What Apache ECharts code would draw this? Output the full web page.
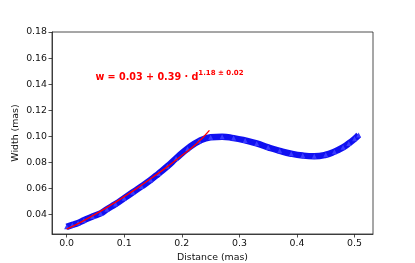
<!DOCTYPE html>
<html>
<head>
<meta charset="utf-8">
<script src="https://cdn.jsdelivr.net/npm/echarts@6/dist/echarts.min.js"></script>
<style>html,body{margin:0;padding:0;background:#fff}#c{width:415px;height:263px}</style>
</head>
<body>
<div id="c"></div>
<script>
const distance = [0, 0.01, 0.02, 0.03, 0.045, 0.059, 0.07, 0.085, 0.1, 0.115, 0.13, 0.146, 0.16, 0.175, 0.19, 0.21, 0.23, 0.25, 0.27, 0.29, 0.31, 0.33, 0.35, 0.37, 0.39, 0.41, 0.43, 0.45, 0.465, 0.48, 0.49, 0.5, 0.507];
const width = [0.0305, 0.032, 0.0335, 0.0355, 0.0385, 0.0408, 0.044, 0.048, 0.0525, 0.057, 0.0615, 0.0665, 0.0715, 0.077, 0.083, 0.0905, 0.0963, 0.0992, 0.0997, 0.0986, 0.0968, 0.0945, 0.0915, 0.0888, 0.0866, 0.0852, 0.0847, 0.0858, 0.0882, 0.0915, 0.0945, 0.098, 0.101];
const fitD = [0, 0.025, 0.05, 0.075, 0.1, 0.125, 0.15, 0.175, 0.2, 0.225, 0.248];
const fitW = [0.0288, 0.0342, 0.0402, 0.0467, 0.0537, 0.061, 0.0687, 0.0767, 0.0852, 0.094, 0.1045];
const xTicks = [0, 0.1, 0.2, 0.3, 0.4, 0.5];
const yTicks = [0.04, 0.06, 0.08, 0.10, 0.12, 0.14, 0.16, 0.18];
const annotation = {d: 0.05, w: 0.14, main: 'w = 0.03 + 0.39 · d', exp: '1.18 ± 0.02'};

const chart = echarts.init(document.getElementById('c'), null, {renderer: 'canvas'});
const font = 'DejaVu Sans';
const fs = 9.4;
const axisCommon = {
  axisLine: {show: true, onZero: false, lineStyle: {color: '#222', width: 0.8}},
  axisTick: {show: true, length: 3.5, lineStyle: {color: '#222', width: 0.8}},
  splitLine: {show: false},
  nameMoveOverlap: false,
  nameTextStyle: {fontFamily: font, fontSize: fs, color: '#111'}
};
chart.setOption({
  animation: false,
  grid: {left: 52, right: 42, top: 32, bottom: 29, outerBoundsMode: 'none', containLabel: false,
         show: true, borderColor: '#222', borderWidth: 0.8, backgroundColor: '#fff'},
  xAxis: Object.assign({}, axisCommon, {
    type: 'value', min: -0.0254, max: 0.532,
    name: 'Distance (mas)', nameLocation: 'middle', nameGap: 19,
    axisTick: Object.assign({}, axisCommon.axisTick, {customValues: xTicks}),
    axisLabel: {customValues: xTicks, fontFamily: font, fontSize: fs, color: '#111', margin: 5, formatter: v => v.toFixed(1)}
  }),
  yAxis: Object.assign({}, axisCommon, {
    type: 'value', min: 0.025, max: 0.18,
    name: 'Width (mas)', nameLocation: 'middle', nameGap: 32, nameRotate: 90,
    axisTick: Object.assign({}, axisCommon.axisTick, {customValues: yTicks}),
    axisLabel: {customValues: yTicks, fontFamily: font, fontSize: fs, color: '#111', margin: 5, formatter: v => v.toFixed(2)}
  }),
  series: [
    {type: 'line', data: distance.map((d, i) => [d, width[i]]), smooth: true, showSymbol: true,
     symbol: 'triangle', symbolSize: 5, itemStyle: {color: '#3a3aff'},
     lineStyle: {color: '#1010f0', width: 6.5}, z: 2},
    {type: 'line', data: fitD.map((d, i) => [d, fitW[i]]), smooth: true, showSymbol: false,
     lineStyle: {color: '#ff0000', width: 1.4}, z: 3}
  ]
});
const p = chart.convertToPixel({gridIndex: 0}, [annotation.d, annotation.w]);
chart.setOption({
  graphic: [{
    type: 'text', x: p[0], y: p[1] + 1, z: 10,
    style: {
      text: '{a|' + annotation.main + '}{b|' + annotation.exp + '}',
      textVerticalAlign: 'bottom', verticalAlign: 'bottom',
      rich: {
        a: {fontFamily: font, fontWeight: 'bold', fontSize: 9.6, fill: '#ff0000', lineHeight: 12},
        b: {fontFamily: font, fontWeight: 'bold', fontSize: 7, fill: '#ff0000', padding: [0, 0, 8, 0]}
      }
    }
  }]
});
</script>
</body>
</html>
